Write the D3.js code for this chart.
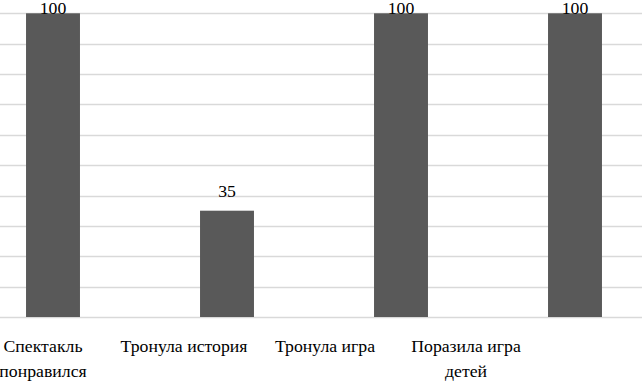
<!DOCTYPE html>
<html>
<head>
<meta charset="UTF-8">
<title>Chart</title>
<script src="https://d3js.org/d3.v7.min.js"></script>
<style>
  html, body { margin: 0; padding: 0; background: #fff; overflow: hidden; font-family: "Liberation Serif", serif; }
</style>
</head>
<body>
<svg id="chart" width="642" height="381" font-family="Liberation Serif" font-size="20">
  <text x="-500" y="-500" font-family="Liberation Serif">Тронула история 35 100</text>
</svg>
<script>
    const categories = ["Спектакль понравился", "Тронула история", "Тронула игра", "Поразила игра детей"];
    const values = [100, 35, 100, 100];
    const yTicks = [0, 10, 20, 30, 40, 50, 60, 70, 80, 90, 100];
    // category names, split where the reference breaks them
    const labelLines = [["Спектакль", "понравился"], ["Тронула история"], ["Тронула игра"], ["Поразила игра", "детей"]];

    const W = 642, H = 381;
    const baseY = 317, topY = 13.3;
    const FONT = "Liberation Serif";

    const svg = d3.select("#chart");

    const x = d3.scaleBand()
        .domain(categories)
        .range([-34, 662])
        .paddingInner(0.69)
        .paddingOuter(0.345);

    // category labels sit on their own spacing
    const xLab = d3.scalePoint()
        .domain(categories)
        .range([43, 466]);

    const y = d3.scaleLinear()
        .domain([0, 100])
        .range([baseY, topY]);

    // grid
    svg.append("g")
        .selectAll("line")
        .data(yTicks)
        .join("line")
        .attr("x1", 0)
        .attr("x2", W)
        .attr("y1", d => Math.round(y(d)) + 0.5)
        .attr("y2", d => Math.round(y(d)) + 0.5)
        .attr("stroke", "#d9d9d9")
        .attr("stroke-width", 1.5);

    svg.append("g")
        .selectAll("rect")
        .data(values)
        .join("rect")
        .attr("x", (d, i) => x(categories[i]))
        .attr("width", x.bandwidth())
        .attr("y", d => y(d))
        .attr("height", d => baseY - y(d))
        .attr("fill", "#595959");

    // pick a size so the text is as wide as in the picture,
    // whatever face the browser ends up using
    const probe = svg.append("text")
        .attr("x", -500).attr("y", -500)
        .attr("font-family", FONT)
        .attr("font-size", 20)
        .text("Тронула история");
    const measured = probe.node().getComputedTextLength();
    probe.remove();
    const fs = measured > 0 ? Math.min(20, 20 * 127 / measured) : 20;

    svg.append("g")
        .selectAll("text")
        .data(values)
        .join("text")
        .attr("x", (d, i) => x(categories[i]) + x.bandwidth() / 2)
        .attr("y", d => Math.max(y(d) - 14, 14))
        .attr("text-anchor", "middle")
        .attr("font-family", FONT)
        .attr("font-size", fs)
        .attr("fill", "#000")
        .text(d => d);

    svg.append("g")
        .selectAll("text")
        .data(categories)
        .join("text")
        .attr("x", d => xLab(d))
        .attr("y", 352)
        .attr("text-anchor", "middle")
        .attr("font-family", FONT)
        .attr("font-size", fs)
        .attr("fill", "#000")
        .selectAll("tspan")
        .data((d, i) => labelLines[i].map(l => ({ l, c: d })))
        .join("tspan")
        .attr("x", d => xLab(d.c))
        .attr("dy", (d, i) => i === 0 ? 0 : 25)
        .text(d => d.l);
</script>
</body>
</html>
